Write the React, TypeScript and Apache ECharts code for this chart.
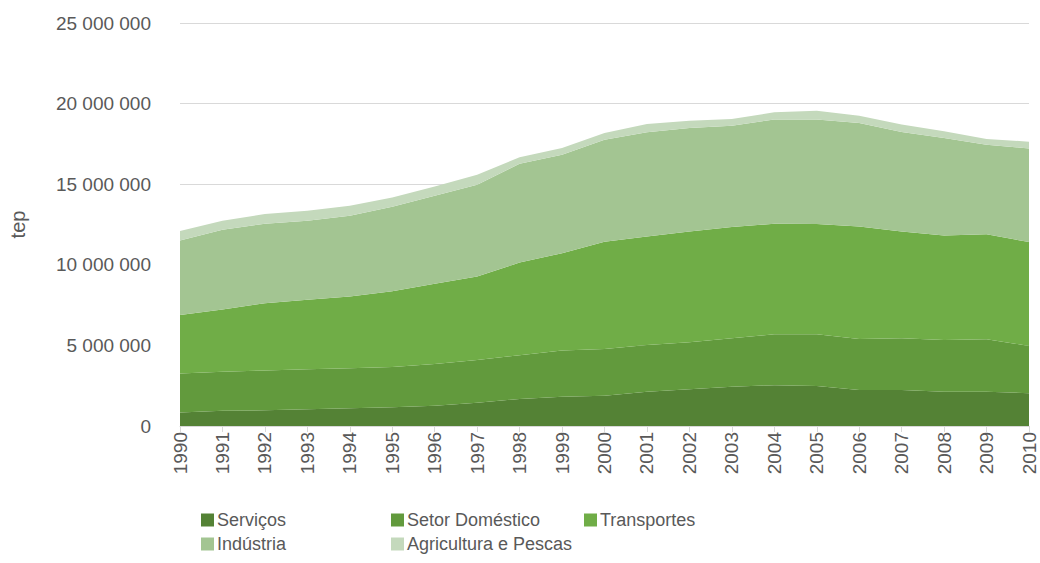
import React, { useEffect, useRef } from "react";
import * as echarts from "echarts";

const years = [
  "1990", "1991", "1992", "1993", "1994", "1995", "1996", "1997", "1998", "1999", "2000",
  "2001", "2002", "2003", "2004", "2005", "2006", "2007", "2008", "2009", "2010",
];

const servicos = [
  830000, 950000, 970000, 1040000, 1100000, 1160000, 1260000, 1450000, 1680000, 1820000, 1880000,
  2130000, 2280000, 2440000, 2530000, 2480000, 2240000, 2240000, 2130000, 2130000, 2030000,
];
const domestico = [
  2420000, 2420000, 2470000, 2480000, 2480000, 2500000, 2590000, 2650000, 2710000, 2860000, 2900000,
  2900000, 2920000, 3010000, 3160000, 3210000, 3160000, 3210000, 3210000, 3250000, 2940000,
];
const transportes = [
  3630000, 3860000, 4180000, 4310000, 4450000, 4700000, 4970000, 5170000, 5750000, 6040000, 6650000,
  6730000, 6870000, 6890000, 6860000, 6840000, 6980000, 6620000, 6480000, 6520000, 6440000,
];
const industria = [
  4630000, 4940000, 4930000, 4900000, 5010000, 5240000, 5470000, 5700000, 6130000, 6110000, 6330000,
  6460000, 6420000, 6290000, 6460000, 6480000, 6420000, 6170000, 6050000, 5550000, 5810000,
];
const agricultura = [
  580000, 560000, 600000, 620000, 620000, 580000, 570000, 620000, 400000, 420000, 420000,
  520000, 450000, 420000, 450000, 540000, 450000, 460000, 410000, 360000, 420000,
];

const seriesNames = ["Serviços", "Setor Doméstico", "Transportes", "Indústria", "Agricultura e Pescas"];
const seriesData = [servicos, domestico, transportes, industria, agricultura];
const colors = ["#548235", "#629a3d", "#70ad47", "#a3c592", "#c4d9bc"];

const FONT = "'Liberation Sans', Arial, sans-serif";

function fmt(v: number): string {
  return String(Math.round(v)).replace(/\B(?=(\d{3})+(?!\d))/g, " ");
}

export default function App() {
  const ref = useRef<HTMLDivElement>(null);
  useEffect(() => {
    if (!ref.current) return;
    const chart = echarts.init(ref.current, undefined, { renderer: "svg" });
    const legendPos = [
      { left: 201, top: 511 },
      { left: 391, top: 511 },
      { left: 584, top: 511 },
      { left: 201, top: 535 },
      { left: 391, top: 535 },
    ];
    chart.setOption({
      animation: false,
      color: colors,
      grid: { left: 180, right: 11, top: 23, bottom: 137, containLabel: false },
      legend: seriesNames.map((n, i) => ({
        data: [n],
        left: legendPos[i].left,
        top: legendPos[i].top,
        icon: "rect",
        itemWidth: 13,
        itemHeight: 13,
        itemGap: 0,
        padding: 0,
        selectedMode: false,
        textStyle: { fontFamily: FONT, fontSize: 18, color: "#595959", padding: [0, 0, 0, -2] },
      })),
      xAxis: {
        type: "category",
        data: years,
        boundaryGap: false,
        axisLine: { lineStyle: { color: "#d9d9d9", width: 1 } },
        axisTick: { show: true, length: 6, lineStyle: { color: "#d9d9d9" } },
        axisLabel: { rotate: 90, margin: 6, fontFamily: FONT, fontSize: 19, color: "#595959" },
        splitLine: { show: false },
      },
      yAxis: {
        type: "value",
        min: 0,
        max: 25000000,
        interval: 5000000,
        name: "tep",
        nameLocation: "middle",
        nameGap: 152,
        nameTextStyle: { fontFamily: FONT, fontSize: 20, color: "#595959" },
        axisLine: { show: false },
        axisTick: { show: false },
        axisLabel: { margin: 29, fontFamily: FONT, fontSize: 19, color: "#595959", formatter: fmt },
        splitLine: { lineStyle: { color: "#d9d9d9", width: 1 } },
      },
      series: seriesNames.map((n, i) => ({
        name: n,
        type: "line",
        stack: "total",
        data: seriesData[i],
        symbol: "none",
        lineStyle: { width: 0 },
        areaStyle: { color: colors[i], opacity: 1 },
        itemStyle: { color: colors[i] },
      })),
    });
    return () => chart.dispose();
  }, []);
  return <div ref={ref} style={{ width: 1040, height: 563, position: "absolute", left: 0, top: 0 }} />;
}
